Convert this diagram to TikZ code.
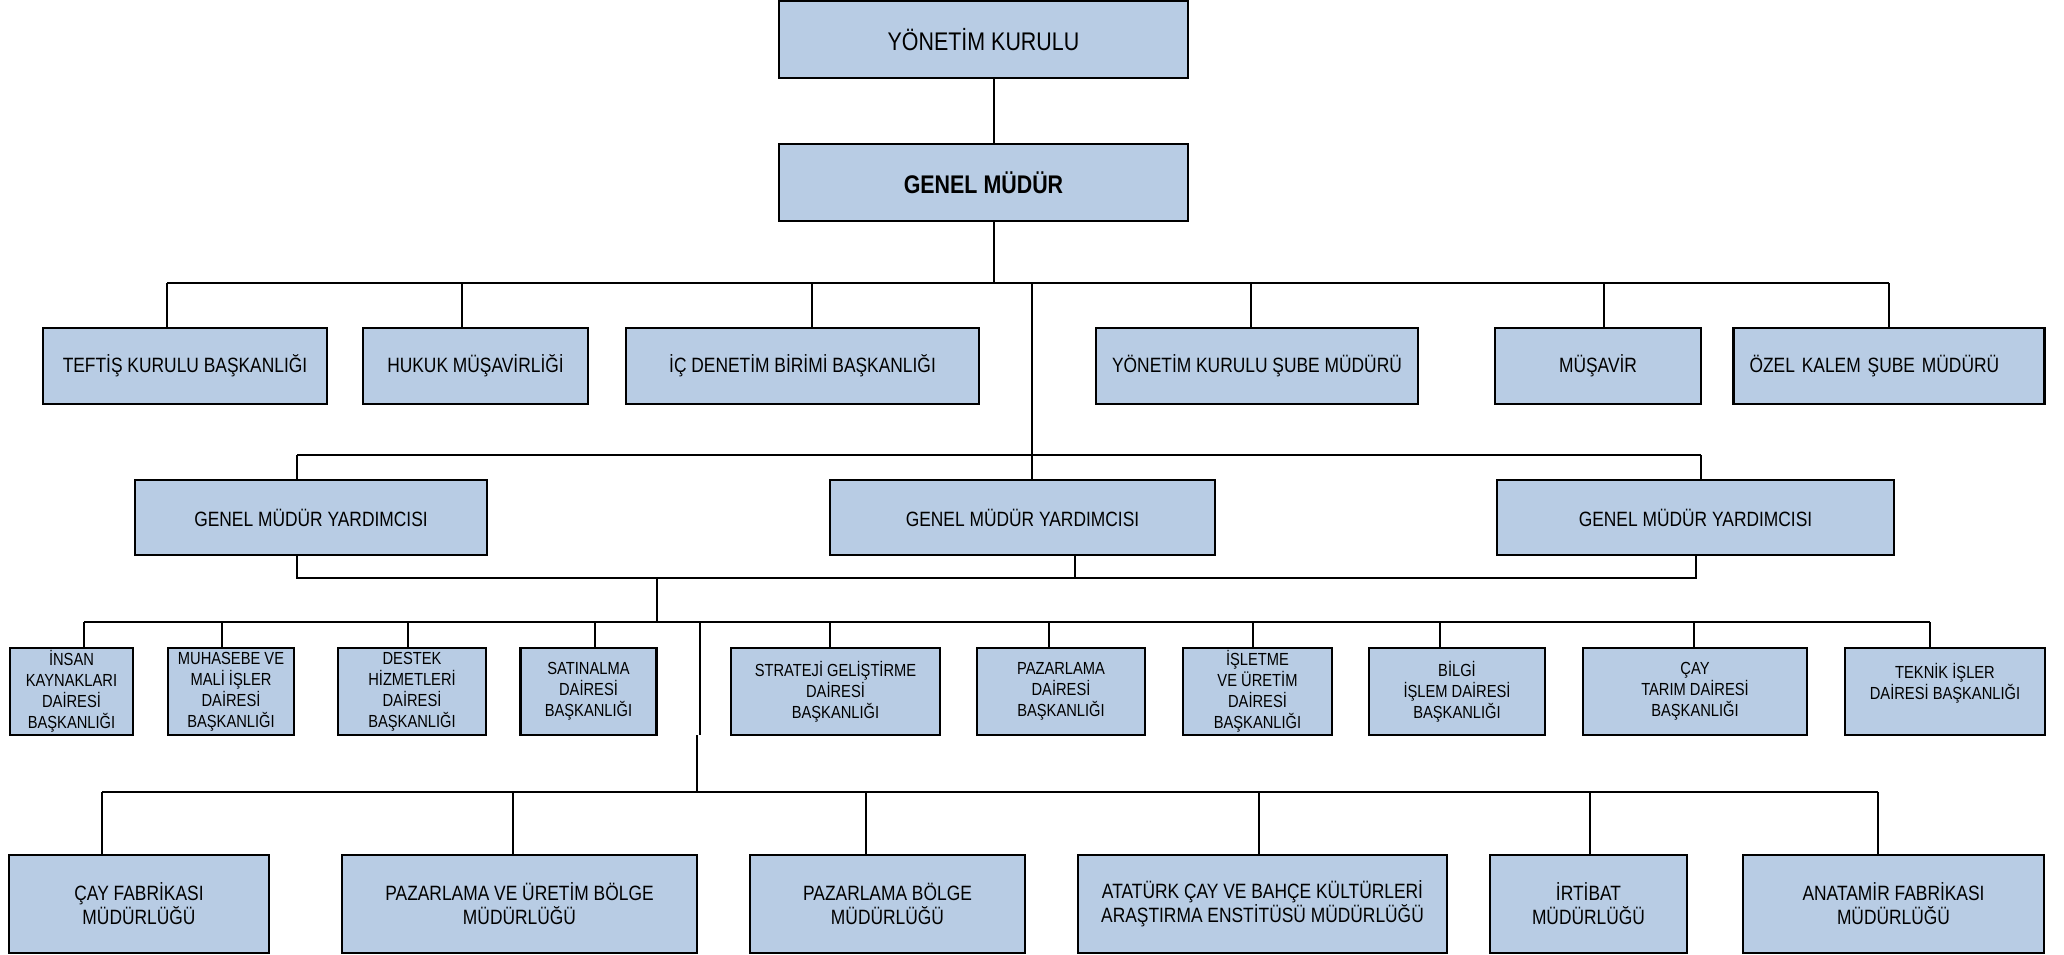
\documentclass[tikz,border=0pt]{standalone}
\usepackage{fontspec}
\setmainfont{Liberation Sans}[FakeStretch=0.84]
\usepackage{xcolor}
\usepackage{tikz}

\definecolor{boxblue}{RGB}{184,204,228}

\tikzset{
	box/.style={rectangle, draw, fill=boxblue, line width=2.4pt, align=center, inner sep=2pt,
		font=\fontsize{20.7}{24}\selectfont},
	small/.style={box, font=\fontsize{17.5}{21}\selectfont},
	top/.style={box, font=\fontsize{25.5}{30}\selectfont},
	line/.style={line width=1.9pt}
}

\begin{document}
\begin{tikzpicture}[x=1pt,y=-1pt]
		\useasboundingbox (0,0) rectangle (2064,955);
		% top
		\node[top, minimum width=409pt, minimum height=77pt] at (983.5,39.5) (yk){YÖNETİM KURULU};
		\node[top, minimum width=409pt, minimum height=77pt] at (983.5,182.5) (gm){\bfseries GENEL MÜDÜR};
		% first row
		\node[box, minimum width=284pt, minimum height=76pt] at (185,366) (tk){TEFTİŞ KURULU BAŞKANLIĞI};
		\node[box, minimum width=225pt, minimum height=76pt] at (475.5,366) (hm){HUKUK MÜŞAVİRLİĞİ};
		\node[box, minimum width=353pt, minimum height=76pt] at (802.5,366) (id){İÇ DENETİM BİRİMİ BAŞKANLIĞI};
		\node[box, minimum width=322pt, minimum height=76pt] at (1257,366) (yks){YÖNETİM KURULU ŞUBE MÜDÜRÜ};
		\node[box, minimum width=206pt, minimum height=76pt] at (1598,366) (mus){MÜŞAVİR};
		\node[box, minimum width=311pt, minimum height=76pt, align=left, text width=279pt] at (1889,366) (ok){ÖZEL KALEM ŞUBE MÜDÜRÜ};
		% genel mudur yardimcilari
		\node[box, minimum width=352pt, minimum height=75pt] at (311,517.5) (gmy1){GENEL MÜDÜR YARDIMCISI};
		\node[box, minimum width=385pt, minimum height=75pt] at (1022.5,517.5) (gmy2){GENEL MÜDÜR YARDIMCISI};
		\node[box, minimum width=397pt, minimum height=75pt] at (1695.5,517.5) (gmy3){GENEL MÜDÜR YARDIMCISI};
		% daire baskanliklari
		\node[small, minimum width=123pt, minimum height=87pt] at (71.5,691.5) (ik){İNSAN\\KAYNAKLARI\\DAİRESİ\\BAŞKANLIĞI};
		\node[small, minimum width=126pt, minimum height=87pt] at (231,691.5) (mm){MUHASEBE VE\\MALİ İŞLER\\DAİRESİ\\BAŞKANLIĞI};
		\node[small, minimum width=148pt, minimum height=87pt] at (412,691.5) (dh){DESTEK\\HİZMETLERİ\\DAİRESİ\\BAŞKANLIĞI};
		\node[small, minimum width=136pt, minimum height=87pt] at (588.5,691.5) (sd){SATINALMA\\DAİRESİ\\BAŞKANLIĞI};
		\node[small, minimum width=209pt, minimum height=87pt] at (835.5,691.5) (sg){STRATEJİ GELİŞTİRME\\DAİRESİ\\BAŞKANLIĞI};
		\node[small, minimum width=168pt, minimum height=87pt] at (1061,691.5) (pd){PAZARLAMA\\DAİRESİ\\BAŞKANLIĞI};
		\node[small, minimum width=149pt, minimum height=87pt] at (1257.5,691.5) (iu){İŞLETME\\VE ÜRETİM\\DAİRESİ\\BAŞKANLIĞI};
		\node[small, minimum width=176pt, minimum height=87pt] at (1457,691.5) (bi){BİLGİ\\İŞLEM DAİRESİ\\BAŞKANLIĞI};
		\node[small, minimum width=224pt, minimum height=87pt] at (1695,691.5) (ct){ÇAY\\TARIM DAİRESİ\\BAŞKANLIĞI};
		\node[small, minimum width=200pt, minimum height=87pt] at (1945,691.5) (te){TEKNİK İŞLER\\DAİRESİ BAŞKANLIĞI\\\mbox{}};
		% mudurlukler
		\node[box, minimum width=260pt, minimum height=98pt] at (139,904) (cf){ÇAY FABRİKASI\\MÜDÜRLÜĞÜ};
		\node[box, minimum width=355pt, minimum height=98pt] at (519.5,904) (pu){PAZARLAMA VE ÜRETİM BÖLGE\\MÜDÜRLÜĞÜ};
		\node[box, minimum width=275pt, minimum height=98pt] at (887.5,904) (pb){PAZARLAMA BÖLGE\\MÜDÜRLÜĞÜ};
		\node[box, minimum width=369pt, minimum height=98pt] at (1262.5,904) (at){ATATÜRK ÇAY VE BAHÇE KÜLTÜRLERİ\\ARAŞTIRMA ENSTİTÜSÜ MÜDÜRLÜĞÜ};
		\node[box, minimum width=197pt, minimum height=98pt] at (1588.5,904) (ir){İRTİBAT\\MÜDÜRLÜĞÜ};
		\node[box, minimum width=301pt, minimum height=98pt] at (1893.5,904) (an){ANATAMİR FABRİKASI\\MÜDÜRLÜĞÜ};

		% stems and buses
		\coordinate (s0) at (994,283);
		\coordinate (m1) at (1032,283);
		\coordinate (g1l) at (297,455);
		\coordinate (g1r) at (1701,455);
		\coordinate (g2l) at (297,578);
		\coordinate (g2r) at (1696,578);
		\coordinate (g2m) at (1075,578);
		\coordinate (d0) at (657,578);
		\coordinate (d1) at (657,622);
		\coordinate (u0) at (700,622);
		\coordinate (u1) at (700,735);
		\coordinate (u2) at (697,735);
		\coordinate (u3) at (697,792);
		\draw[line] (s0 |- yk.south) -- (s0 |- gm.north);
		\draw[line] (s0 |- gm.south) -- (s0);
		\draw[line] (167,283) -- (1889,283);
		\foreach \x/\n in {167/tk, 462/hm, 812/id, 1251/yks, 1604/mus, 1889/ok} {
			\coordinate (k\n) at (\x,283);
			\draw[line] (k\n) -- (k\n |- \n.north);
		}
		\draw[line] (m1) -- (m1 |- gmy2.north);
		\draw[line] (g1l) -- (g1r);
		\draw[line] (g1l) -- (g1l |- gmy1.north);
		\draw[line] (g1r) -- (g1r |- gmy3.north);
		\draw[line] (g2l |- gmy1.south) -- (g2l) -- (g2r) -- (g2r |- gmy3.south);
		\draw[line] (g2m |- gmy2.south) -- (g2m);
		\draw[line] (d0) -- (d1);
		\draw[line] (84,622) -- (1930,622);
		\foreach \x/\n in {84/ik, 222/mm, 408/dh, 595/sd, 830/sg, 1049/pd, 1253/iu, 1440/bi, 1694/ct, 1930/te} {
			\coordinate (k\n) at (\x,622);
			\draw[line] (k\n) -- (k\n |- \n.north);
		}
		\draw[line] (u0) -- (u1);
		\draw[line] (u2) -- (u3);
		\draw[line] (102,792) -- (1878,792);
		\foreach \x/\n in {102/cf, 513/pu, 866/pb, 1259/at, 1590/ir, 1878/an} {
			\coordinate (k\n) at (\x,792);
			\draw[line] (k\n) -- (k\n |- \n.north);
		}
		% \draw[line] (u0) -- (u3);
\end{tikzpicture}
\end{document}
